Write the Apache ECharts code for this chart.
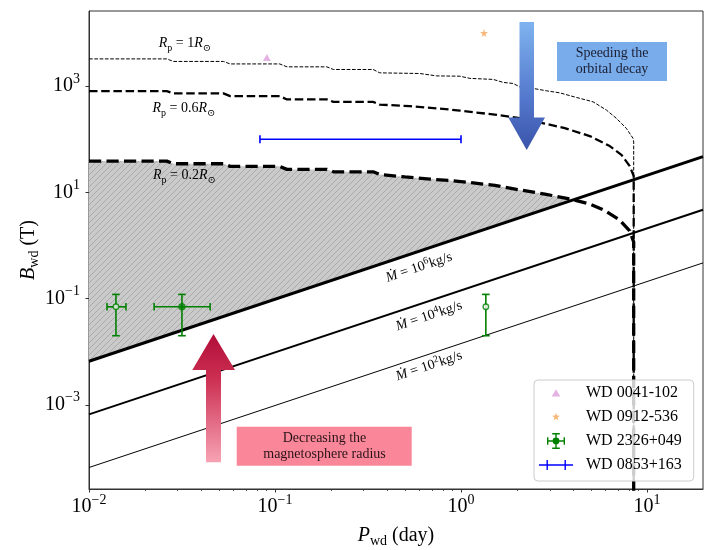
<!DOCTYPE html>
<html><head><meta charset="utf-8">
<script src="https://cdn.jsdelivr.net/npm/echarts@6/dist/echarts.min.js"></script>
<style>html,body{margin:0;padding:0;background:#fff}#c{width:715px;height:550px}</style>
</head><body><div id="c"></div>
<script>
// ---------- axis ticks ----------
const xMajorExp = [-2, -1, 0, 1];
const yMajorExp = [-3, -1, 1, 3];
const xMinor = [0.02,0.03,0.04,0.05,0.06,0.07,0.08,0.09,0.2,0.3,0.4,0.5,0.6,0.7,0.8,0.9,2,3,4,5,6,7,8,9];
const xRange = [0.01, 20];
const yRange = [2.6e-5, 2.6e4];

// ---------- accretion-rate lines (P [day], B [T]) ----------
const mdot6 = [[0.01, 6.6e-3], [20, 47]];
const mdot4 = [[0.01, 6.6e-4], [20, 4.7]];
const mdot2 = [[0.01, 6.6e-5], [20, 0.47]];

// ---------- R_p curves ----------
const rp1 = [[0.01,3260],[0.0262,3260],[0.0284,2920],[0.0528,2920],[0.0574,2620],[0.106,2620],[0.116,2310],[0.190,2310],[0.206,2060],[0.337,2060],[0.366,1780],[0.601,1730],[0.740,1560],[0.986,1540],[1.117,1400],[1.489,1340],[1.687,1175],[1.905,1125],[2.07,971],[2.443,906],[2.884,817],[3.396,748],[4.178,612],[5.129,507],[6.053,354],[6.855,247],[7.745,160],[8.414,104],[8.48,88.5],[8.48,1e-5]];
const rp06 = [[0.01,805],[0.0262,805],[0.0284,729],[0.0528,729],[0.0574,649],[0.106,649],[0.116,562],[0.190,562],[0.206,507],[0.337,507],[0.366,449],[0.532,421],[0.771,378],[0.986,346],[1.521,291],[2.07,250],[2.822,197],[3.614,162],[4.92,115],[6.305,74.5],[7.311,50.4],[8.072,31.3],[8.48,20.3],[8.48,1e-5]];
const rp02 = [[0.01,38.8],[0.0262,38.8],[0.0284,34.6],[0.0528,34.6],[0.0574,30.9],[0.106,30.9],[0.116,27.1],[0.190,27.1],[0.206,24.4],[0.337,24.4],[0.366,21.7],[0.500,19.5],[0.681,17.8],[0.871,16.7],[1.117,15.3],[1.521,13.5],[2.07,11.1],[2.822,9.31],[3.846,7.50],[4.92,6.04],[5.929,4.55],[7.129,3.02],[8.072,1.88],[8.48,1.16],[8.48,1e-5]];

// ---------- objects ----------
const wd0041 = [[0.0904, 3450]];
const wd0912 = [[1.33, 1.0e4]];
// WD 2326+049: P, B, Plo, Phi, Blo, Bhi
const wd2326P   = [0.01396, 0.0316, 1.36];
const wd2326B   = [0.07, 0.07, 0.07];
const wd2326Plo = [0.0125, 0.0224, 1.36];
const wd2326Phi = [0.0158, 0.0448, 1.36];
const wd2326Blo = [0.02, 0.02, 0.02];
const wd2326Bhi = [0.12, 0.12, 0.12];
const wd2326Open = [true, false, true];
// WD 0853+163: P range at B
const wd0853Plo = [0.083];
const wd0853Phi = [1.0];
const wd0853B = [100];

const FONT = "'Liberation Serif','DejaVu Serif',serif";
const L = Math.log10;
const toLog = arr => arr.map(p => [L(p[0]), L(p[1])]);

// hatched fill region: between Rp=0.2 curve and Mdot=1e6 line
function fillPolygon() {
  const up = toLog(rp02), ln = toLog(mdot6);
  const f = x => ln[0][1] + (ln[1][1]-ln[0][1])*(x-ln[0][0])/(ln[1][0]-ln[0][0]);
  const pts = [];
  for (let i = 0; i < up.length; i++) {
    const p = up[i], d = p[1] - f(p[0]);
    if (d >= 0) { pts.push(p); continue; }
    const q = up[i-1], dq = q[1] - f(q[0]);
    const t = dq / (dq - d);
    const x = q[0] + t*(p[0]-q[0]);
    pts.push([x, f(x)]);
    break;
  }
  pts.push([ln[0][0], ln[0][1]]);
  return pts;
}
const fillPts = fillPolygon();

const hc = document.createElement('canvas');
hc.width = 6; hc.height = 6;
(function(){
  const g = hc.getContext('2d');
  g.fillStyle = '#cacaca'; g.fillRect(0,0,6,6);
  g.strokeStyle = '#a6a6a6'; g.lineWidth = 0.9;
  g.beginPath();
  g.moveTo(0,6); g.lineTo(6,0);
  g.moveTo(-1,1); g.lineTo(1,-1);
  g.moveTo(5,7); g.lineTo(7,5);
  g.stroke();
})();
const hatch = {image: hc, repeat: 'repeat'};

function expFmt(v) {
  const e = Math.round(v);
  return '{b|10}{e|' + (e < 0 ? '\u2212' + (-e) : e) + '}';
}
const expRich = {
  b: {fontFamily: FONT, fontSize: 20, lineHeight: 28, color: '#000'},
  e: {fontFamily: FONT, fontSize: 14, verticalAlign: 'top', color: '#000'}
};

function lineSeries(name, data, width, dash) {
  return {type: 'line', name, data: toLog(data), showSymbol: false, symbol: 'none',
    lineStyle: {color: '#000', width, type: dash || 'solid'}, z: 3, silent: true};
}

const green = '#008000';
const wd2326Data = wd2326P.map((p, i) => [L(p), L(wd2326B[i]), L(wd2326Plo[i]), L(wd2326Phi[i]), L(wd2326Blo[i]), L(wd2326Bhi[i])]);

const chart = echarts.init(document.getElementById('c'), null, {renderer: 'canvas'});

const blueGrad = new echarts.graphic.LinearGradient(0,0,0,1,[{offset:0,color:'#7fb3ef'},{offset:0.6,color:'#5377cc'},{offset:1,color:'#3a54aa'}]);
const redGrad = new echarts.graphic.LinearGradient(0,0,0,1,[{offset:0,color:'#b10e38'},{offset:0.35,color:'#cc2f52'},{offset:1,color:'#f7a3b4'}]);

const rpRich = {
  i: {fontFamily: FONT, fontSize: 14, fontStyle: 'italic', lineHeight: 20, color: '#111'},
  n: {fontFamily: FONT, fontSize: 14, lineHeight: 20, color: '#111'},
  s: {fontFamily: FONT, fontSize: 10, verticalAlign: 'bottom', color: '#111'}
};
const mRich = {
  i: {fontFamily: FONT, fontSize: 14, fontStyle: 'italic', lineHeight: 18, color: '#111'},
  n: {fontFamily: FONT, fontSize: 14, lineHeight: 18, color: '#111'},
  s: {fontFamily: FONT, fontSize: 10, verticalAlign: 'top', color: '#111'}
};
const ang = 0.3217;

const option = {
  animation: false,
  backgroundColor: '#fff',
  grid: {left: 89, top: 11, right: 12, bottom: 61, show: true, borderColor: '#333', borderWidth: 1, backgroundColor: 'transparent', containLabel: false, outerBoundsMode: 'none'},
  xAxis: [{
    type: 'value', min: L(xRange[0]), max: L(xRange[1]), position: 'bottom',
    splitLine: {show: false},
    axisLine: {show: true, onZero: false, lineStyle: {color: '#333', width: 1}},
    axisTick: {show: true, customValues: xMajorExp, length: 3.5, inside: false, lineStyle: {color: '#333', width: 1}},
    axisLabel: {customValues: xMajorExp, margin: 4, formatter: expFmt, rich: expRich},
    name: '{i|P}{s|wd} (day)', nameLocation: 'middle', nameGap: 35, nameMoveOverlap: false,
    nameTextStyle: {fontFamily: FONT, fontSize: 20, color: '#000', lineHeight: 24,
      rich: {i: {fontFamily: FONT, fontSize: 20, fontStyle: 'italic', lineHeight: 24, color: '#000'},
             s: {fontFamily: FONT, fontSize: 14, verticalAlign: 'bottom', color: '#000'}}}
  }, {
    type: 'value', min: L(xRange[0]), max: L(xRange[1]), position: 'bottom',
    splitLine: {show: false},
    axisLine: {show: false, onZero: false},
    axisTick: {show: true, customValues: xMinor.map(L), length: 2, inside: false, lineStyle: {color: '#333', width: 0.8}},
    axisLabel: {show: false}
  }],
  yAxis: [{
    type: 'value', min: L(yRange[0]), max: L(yRange[1]),
    splitLine: {show: false},
    axisLine: {show: true, onZero: false, lineStyle: {color: '#333', width: 1}},
    axisTick: {show: true, customValues: yMajorExp, length: 3.5, inside: false, lineStyle: {color: '#333', width: 1}},
    axisLabel: {customValues: yMajorExp, margin: 9, formatter: expFmt, rich: expRich},
    name: '{i|B}{s|wd} (T)', nameLocation: 'middle', nameGap: 48, nameRotate: 90, nameMoveOverlap: false,
    nameTextStyle: {fontFamily: FONT, fontSize: 20, color: '#000', lineHeight: 24,
      rich: {i: {fontFamily: FONT, fontSize: 20, fontStyle: 'italic', lineHeight: 24, color: '#000'},
             s: {fontFamily: FONT, fontSize: 14, verticalAlign: 'bottom', color: '#000'}}}
  }],
  legend: {
    left: 534, top: 380, orient: 'vertical', selectedMode: false,
    padding: [5, 12, 8, 2], itemWidth: 40, itemHeight: 16, itemGap: 8,
    backgroundColor: 'rgba(255,255,255,0.8)', borderColor: '#cccccc', borderWidth: 1, borderRadius: 4,
    textStyle: {fontFamily: FONT, fontSize: 16, color: '#000', lineHeight: 16, padding: [0,0,0,5]},
    data: [
      {name: 'WD 0041-102', icon: 'path://M0,0M40,16M20,4.2L24.3,11.6L15.7,11.6Z', itemStyle: {color: '#dda0dd', borderWidth: 0}},
      {name: 'WD 0912-536', icon: 'path://M0,0M40,16M20,3.8L21,6.62L23.99,6.7L21.62,8.53L22.47,11.4L20,9.7L17.53,11.4L18.38,8.53L16.01,6.7L19,6.62Z', itemStyle: {color: '#f5a55a', borderWidth: 0}},
      {name: 'WD 2326+049', icon: 'path://M0,0M40,16M23.4,8A3.4,3.4 0 1,1 16.6,8A3.4,3.4 0 1,1 23.4,8Z M19.3,0L20.7,0L20.7,16L19.3,16Z M16.2,0L23.8,0L23.8,1.4L16.2,1.4Z M16.2,14.6L23.8,14.6L23.8,16L16.2,16Z M11,7.3L29,7.3L29,8.7L11,8.7Z M11,4.2L12.4,4.2L12.4,11.8L11,11.8Z M27.6,4.2L29,4.2L29,11.8L27.6,11.8Z', itemStyle: {color: green, borderWidth: 0}},
      {name: 'WD 0853+163', icon: 'path://M0,0M40,16M3,7.3L37,7.3L37,8.7L3,8.7Z M10.5,3L11.9,3L11.9,13L10.5,13Z M28.5,3L29.9,3L29.9,13L28.5,13Z', itemStyle: {color: '#0000ff', borderWidth: 0}}
    ]
  },
  series: [
    {type: 'custom', name: 'hatch', data: [[-2, 0]], encode: {x: 0, y: 1}, z: 1, silent: true,
      renderItem: (params, api) => ({type: 'polygon', shape: {points: fillPts.map(p => api.coord(p))}, style: {fill: hatch, stroke: null}})},
    lineSeries('Mdot1e6', mdot6, 3),
    lineSeries('Mdot1e4', mdot4, 2),
    lineSeries('Mdot1e2', mdot2, 1),
    lineSeries('Rp1', rp1, 1, [3.7, 1.6]),
    lineSeries('Rp06', rp06, 2.3, [8.5, 3.7]),
    lineSeries('Rp02', rp02, 3.3, [12.2, 5.3]),
    {type: 'custom', name: 'WD 0853+163', itemStyle: {color: '#0000ff'}, z: 4, silent: true,
      data: wd0853Plo.map((p, i) => [L(p), L(wd0853B[i]), L(wd0853Phi[i])]), encode: {x: 0, y: 1},
      renderItem: (params, api) => {
        const a = api.coord([api.value(0), api.value(1)]);
        const b = api.coord([api.value(2), api.value(1)]);
        const st = {stroke: '#0000ff', lineWidth: 1.6};
        return {type: 'group', children: [
          {type: 'line', shape: {x1: a[0], y1: a[1], x2: b[0], y2: b[1]}, style: st},
          {type: 'line', shape: {x1: a[0], y1: a[1]-4, x2: a[0], y2: a[1]+4}, style: st},
          {type: 'line', shape: {x1: b[0], y1: b[1]-4, x2: b[0], y2: b[1]+4}, style: st}
        ]};
      }},
    {type: 'custom', name: 'WD 2326+049', itemStyle: {color: green}, z: 4, silent: true,
      data: wd2326Data, encode: {x: 0, y: 1},
      renderItem: (params, api) => {
        const x = api.value(0), y = api.value(1);
        const c = api.coord([x, y]);
        const yl = api.coord([x, api.value(4)]), yh = api.coord([x, api.value(5)]);
        const xl = api.coord([api.value(2), y]), xh = api.coord([api.value(3), y]);
        const cap = 3.8, st = {stroke: green, lineWidth: 1.6};
        const ch = [
          {type: 'line', shape: {x1: c[0], y1: yh[1], x2: c[0], y2: yl[1]}, style: st},
          {type: 'line', shape: {x1: c[0]-cap, y1: yh[1], x2: c[0]+cap, y2: yh[1]}, style: st},
          {type: 'line', shape: {x1: c[0]-cap, y1: yl[1], x2: c[0]+cap, y2: yl[1]}, style: st}
        ];
        if (xh[0] - xl[0] > 1) {
          ch.push({type: 'line', shape: {x1: xl[0], y1: c[1], x2: xh[0], y2: c[1]}, style: st});
          ch.push({type: 'line', shape: {x1: xl[0], y1: c[1]-cap, x2: xl[0], y2: c[1]+cap}, style: st});
          ch.push({type: 'line', shape: {x1: xh[0], y1: c[1]-cap, x2: xh[0], y2: c[1]+cap}, style: st});
        }
        return {type: 'group', children: ch};
      }},
    {type: 'scatter', name: 'wd2326open', z: 5, silent: true, symbol: 'circle', symbolSize: 5.5,
      itemStyle: {color: '#ffffff', borderColor: green, borderWidth: 1.4},
      data: wd2326Data.filter((d, i) => wd2326Open[i]).map(d => [d[0], d[1]])},
    {type: 'scatter', name: 'wd2326filled', z: 5, silent: true, symbol: 'circle', symbolSize: 7.5,
      itemStyle: {color: green},
      data: wd2326Data.filter((d, i) => !wd2326Open[i]).map(d => [d[0], d[1]])},
    {type: 'scatter', name: 'WD 0041-102', z: 5, silent: true, symbol: 'triangle', symbolSize: [8, 7],
      itemStyle: {color: '#dda0dd'}, data: toLog(wd0041)},
    {type: 'scatter', name: 'WD 0912-536', z: 5, silent: true,
      symbol: 'path://M50,0L61,35L98,35L68,57L79,91L50,70L21,91L32,57L2,35L39,35Z', symbolSize: 8,
      itemStyle: {color: '#f5a55a'}, data: toLog(wd0912)}
  ],
  graphic: [
    {type: 'polygon', z: 50, silent: true, shape: {points: [[519.5,22],[534,22],[534,117.5],[545,117.5],[526.7,150],[508.3,117.5],[519.5,117.5]]}, style: {fill: blueGrad}},
    {type: 'rect', z: 50, silent: true, shape: {x: 557, y: 42, width: 110, height: 39}, style: {fill: '#78aceb'}},
    {type: 'text', z: 51, silent: true, x: 612, y: 61.5, style: {text: 'Speeding the\norbital decay', fontFamily: FONT, fontSize: 14, lineHeight: 16.5, fill: '#1c1f33', align: 'center', verticalAlign: 'middle'}},
    {type: 'polygon', z: 50, silent: true, shape: {points: [[213.5,334],[235,370],[221,370],[221,462.3],[206,462.3],[206,370],[192.3,370]]}, style: {fill: redGrad}},
    {type: 'rect', z: 50, silent: true, shape: {x: 236.7, y: 426.7, width: 175, height: 39}, style: {fill: '#fa8799'}},
    {type: 'text', z: 51, silent: true, x: 324.5, y: 446.2, style: {text: 'Decreasing the\nmagnetosphere radius', fontFamily: FONT, fontSize: 14, lineHeight: 16.5, fill: '#2a1418', align: 'center', verticalAlign: 'middle'}},
    {type: 'text', z: 51, silent: true, x: 185, y: 43.5, style: {text: '{i|R}{s|p}{n| = 1}{i|R}{s|\u2299}', rich: rpRich, align: 'center', verticalAlign: 'middle'}},
    {type: 'text', z: 51, silent: true, x: 184, y: 108.3, style: {text: '{i|R}{s|p}{n| = 0.6}{i|R}{s|\u2299}', rich: rpRich, align: 'center', verticalAlign: 'middle'}},
    {type: 'text', z: 51, silent: true, x: 184.5, y: 175.5, style: {text: '{i|R}{s|p}{n| = 0.2}{i|R}{s|\u2299}', rich: rpRich, align: 'center', verticalAlign: 'middle'}},
    {type: 'text', z: 51, silent: true, x: 419, y: 267.5, rotation: ang, style: {text: '{i|\u1E40}{n| = 10}{s|6}{n|kg/s}', rich: mRich, align: 'center', verticalAlign: 'middle'}},
    {type: 'text', z: 51, silent: true, x: 429, y: 316, rotation: ang, style: {text: '{i|\u1E40}{n| = 10}{s|4}{n|kg/s}', rich: mRich, align: 'center', verticalAlign: 'middle'}},
    {type: 'text', z: 51, silent: true, x: 429, y: 366, rotation: ang, style: {text: '{i|\u1E40}{n| = 10}{s|2}{n|kg/s}', rich: mRich, align: 'center', verticalAlign: 'middle'}}
  ]
};
chart.setOption(option);
</script>
</body></html>
